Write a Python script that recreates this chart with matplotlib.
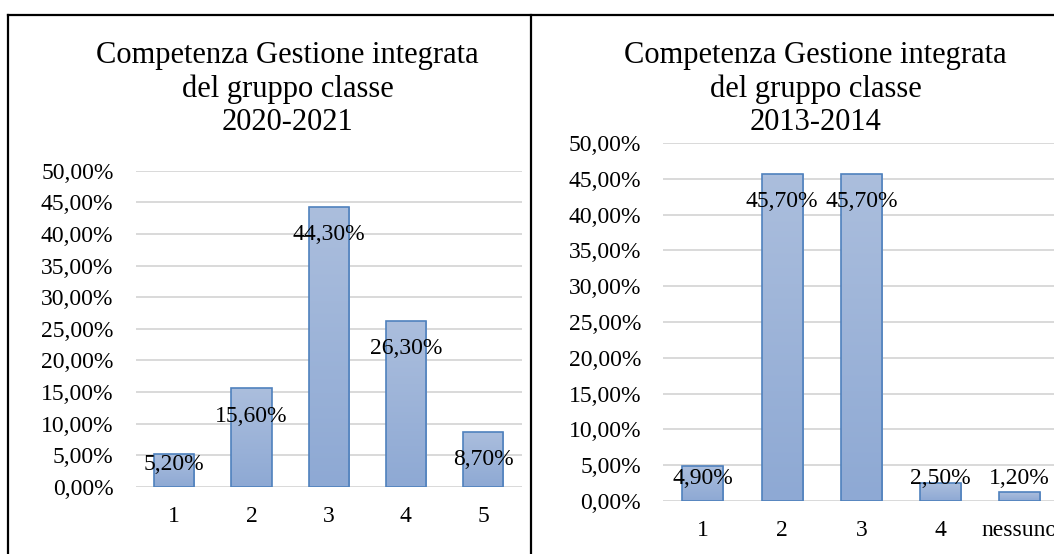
import numpy as np
import matplotlib.pyplot as plt
from matplotlib.lines import Line2D
from matplotlib.ticker import FuncFormatter
from matplotlib.colors import LinearSegmentedColormap

plt.rcParams['font.family'] = ['Liberation Serif', 'DejaVu Serif']

# ---------- data ----------
title_left = "Competenza Gestione integrata\ndel gruppo classe\n2020-2021"
cats_left = ["1", "2", "3", "4", "5"]
vals_left = [5.2, 15.6, 44.3, 26.3, 8.7]

title_right = "Competenza Gestione integrata\ndel gruppo classe\n2013-2014"
cats_right = ["1", "2", "3", "4", "nessuno"]
vals_right = [4.9, 45.7, 45.7, 2.5, 1.2]

W, H = 1054, 554
EDGE = "#4f81bd"
GRID = "#d9d9d9"
grad = LinearSegmentedColormap.from_list("bar", ["#8ea9d4", "#abbedd"])


def pct(v, _=None):
    return f"{v:.2f}".replace(".", ",") + "%"


def px_axes(fig, left, right, top, bottom):
    # axes rectangle given in pixel coords measured from the top-left corner
    return fig.add_axes([left / W, 1 - bottom / H, (right - left) / W, (bottom - top) / H])


def draw_panel(ax, cats, vals, title, title_xy, fig):
    x = np.arange(len(cats))
    bars = ax.bar(x, vals, width=0.52, color="none", edgecolor=EDGE, linewidth=1.2, zorder=3)
    # vertical gradient fill, clipped to each bar
    for b in bars:
        x0, y0 = b.get_x(), b.get_y()
        im = ax.imshow(np.linspace(0, 1, 64).reshape(-1, 1), cmap=grad, aspect="auto",
                       origin="lower", extent=(x0, x0 + b.get_width(), y0, y0 + b.get_height()),
                       zorder=2, interpolation="bilinear")
        im.set_clip_path(b)

    ax.set_xlim(-0.5, len(cats) - 0.5)
    ax.set_ylim(0, 50)
    ax.set_yticks(np.arange(0, 51, 5))
    ax.yaxis.set_major_formatter(FuncFormatter(pct))
    ax.set_xticks(x)
    ax.set_xticklabels(cats)
    ax.tick_params(axis="y", length=0, pad=16, labelsize=17)
    ax.tick_params(axis="x", length=0, pad=14, labelsize=17)
    ax.grid(axis="y", color=GRID, linewidth=1.4, zorder=0)
    ax.set_axisbelow(True)
    for s in ax.spines.values():
        s.set_visible(False)

    # data labels: just inside the top of each bar, kept above the baseline
    to_px = ax.transData
    base_px = to_px.transform((0, 0))[1]
    for xi, v in zip(x, vals):
        top_px = to_px.transform((xi, v))[1]
        ypx = max(top_px - 28, base_px + 23)
        yv = to_px.inverted().transform((0, ypx))[1]
        ax.text(xi, yv, pct(v), ha="center", va="center", fontsize=17, zorder=5)

    fig.text(title_xy[0] / W, 1 - title_xy[1] / H, title, ha="center", va="center",
             fontsize=22, linespacing=1.2)


fig = plt.figure(figsize=(W / 100, H / 100), dpi=100)

axL = px_axes(fig, 135.7, 521.7, 170.7, 487)
axR = px_axes(fig, 663.3, 1059.3, 143, 501)
fig.canvas.draw()

draw_panel(axL, cats_left, vals_left, title_left, (287.5, 89), fig)
draw_panel(axR, cats_right, vals_right, title_right, (815.5, 89), fig)

# frame around the two charts
lw = 1.6
fig.add_artist(Line2D([8.3 / W, 1], [1 - 15 / H, 1 - 15 / H], color="black", lw=lw))
fig.add_artist(Line2D([8.3 / W, 8.3 / W], [0, 1 - 15 / H], color="black", lw=lw))
fig.add_artist(Line2D([531 / W, 531 / W], [0, 1 - 15 / H], color="black", lw=lw))

fig.savefig("out.png", dpi=100)
